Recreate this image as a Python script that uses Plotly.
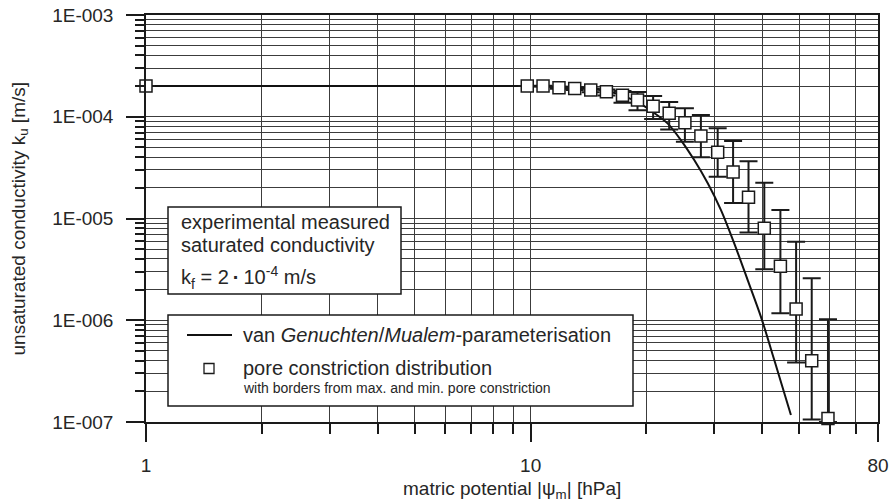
import plotly.graph_objects as go

# ---------------- data ----------------
psi_pts = [1, 9.8, 10.77, 11.85, 13.02, 14.33, 15.74, 17.33, 18.96, 20.82, 22.92,
           25.18, 27.71, 30.64, 33.6, 36.85, 40.5, 44.6, 49.0, 53.8, 59.3]
k_pts = [2.0e-4, 2.0e-4, 2.0e-4, 1.93e-4, 1.90e-4, 1.83e-4, 1.76e-4, 1.63e-4, 1.46e-4,
         1.27e-4, 1.08e-4, 8.73e-5, 6.46e-5, 4.47e-5, 2.86e-5, 1.62e-5, 8.0e-6,
         3.4e-6, 1.29e-6, 4.0e-7, 1.08e-7]
k_max = [2.0e-4, 2.0e-4, 2.02e-4, 1.97e-4, 1.95e-4, 1.90e-4, 1.85e-4, 1.79e-4, 1.75e-4,
         1.60e-4, 1.40e-4, 1.21e-4, 1.04e-4, 7.69e-5, 5.77e-5, 3.66e-5, 2.24e-5,
         1.21e-5, 5.9e-6, 2.58e-6, 1.02e-6]
k_min = [2.0e-4, 2.0e-4, 1.98e-4, 1.88e-4, 1.83e-4, 1.74e-4, 1.62e-4, 1.37e-4, 1.16e-4,
         9.5e-5, 7.5e-5, 5.68e-5, 3.99e-5, 2.57e-5, 1.42e-5, 7.3e-6, 3.18e-6,
         1.17e-6, 3.85e-7, 1.06e-7, 1.0e-7]

vg_psi = [1, 10, 12, 13.5, 15.2, 17.15, 19.34, 20.95, 22.7, 24.58, 26.63, 28.85,
          31.25, 33.83, 36.67, 39.7, 43.0, 47.5]
vg_k = [2e-4, 2e-4, 1.98e-4, 1.92e-4, 1.83e-4, 1.64e-4, 1.33e-4, 1.09e-4, 8.6e-5,
        5.9e-5, 3.75e-5, 2.23e-5, 1.21e-5, 5.7e-6, 2.48e-6, 1.08e-6, 4.06e-7, 1.17e-7]

x_ticks = [1, 10, 80]
x_ticktext = ["1", "10", "80"]
x_minor = [2, 3, 4, 5, 6, 7, 8, 9, 20, 30, 40, 50, 60, 70]
y_ticks = [1e-7, 1e-6, 1e-5, 1e-4, 1e-3]
y_ticktext = ["1E-007", "1E-006", "1E-005", "1E-004", "1E-003"]
y_minor = [m * 10.0 ** e for e in range(-7, -3) for m in range(2, 10)]

# ---------------- styling ----------------
FONT = "Liberation Sans, Arial, sans-serif"
TXT = "#262626"
GRID = "#3c3c3c"
AX = "#1a1a1a"

W, H = 894, 504
L, R, T, B = 146, 878, 15, 422


def px(x):
    return (x - L) / (R - L)


def py(y):
    return (B - y) / (B - T)


err_plus = [None if (a - k) <= 0 else a - k for a, k in zip(k_max, k_pts)]
err_minus = [None if (k - b) <= 0 else k - b for b, k in zip(k_min, k_pts)]

fig = go.Figure()
fig.add_trace(go.Scatter(
    x=vg_psi, y=vg_k, mode="lines",
    line=dict(color="#111111", width=2, shape="spline", smoothing=0.8),
    showlegend=False, hoverinfo="skip"))
fig.add_trace(go.Scatter(
    x=psi_pts, y=k_pts, mode="markers",
    marker=dict(symbol="square", size=12, color="white",
                line=dict(color="#1a1a1a", width=1.5)),
    error_y=dict(type="data", symmetric=False, array=err_plus, arrayminus=err_minus,
                 color="#1a1a1a", thickness=2, width=9),
    cliponaxis=False, showlegend=False))

shapes = []
annotations = []

# box 1: saturated conductivity note
shapes.append(dict(type="rect", xref="paper", yref="paper",
                   x0=px(168), x1=px(401), y0=py(294), y1=py(207),
                   line=dict(color=AX, width=1.5), fillcolor="white", layer="above"))
for txt, yy in [("experimental measured", 221.7),
                ("saturated conductivity", 245),
                ("k<sub>f</sub> = 2\u2009<b>·</b>\u200910<sup>-4</sup> m/s", 277)]:
    annotations.append(dict(text=txt, xref="paper", yref="paper", x=px(179), y=py(yy),
                            xanchor="left", yanchor="middle", showarrow=False,
                            font=dict(family=FONT, size=20, color=TXT)))

# legend box
shapes.append(dict(type="rect", xref="paper", yref="paper",
                   x0=px(168), x1=px(633), y0=py(406), y1=py(315),
                   line=dict(color=AX, width=1.5), fillcolor="white", layer="above"))
shapes.append(dict(type="line", xref="paper", yref="paper",
                   x0=px(187), x1=px(232), y0=py(335), y1=py(335),
                   line=dict(color="#111111", width=2), layer="above"))
shapes.append(dict(type="rect", xref="paper", yref="paper",
                   x0=px(204), x1=px(214), y0=py(373.5), y1=py(363.5),
                   line=dict(color="#1a1a1a", width=1.3), fillcolor="white", layer="above"))
annotations.append(dict(text="van <i>Genuchten</i>/<i>Mualem</i>-parameterisation",
                        xref="paper", yref="paper", x=px(241), y=py(335),
                        xanchor="left", yanchor="middle", showarrow=False,
                        font=dict(family=FONT, size=20, color=TXT)))
annotations.append(dict(text="pore constriction distribution",
                        xref="paper", yref="paper", x=px(241), y=py(368),
                        xanchor="left", yanchor="middle", showarrow=False,
                        font=dict(family=FONT, size=20, color=TXT)))
annotations.append(dict(text="with borders from max. and min. pore constriction",
                        xref="paper", yref="paper", x=px(241), y=py(387.5),
                        xanchor="left", yanchor="middle", showarrow=False,
                        font=dict(family=FONT, size=14, color=TXT)))

# axis titles
annotations.append(dict(text="unsaturated conductivity k<sub>u</sub> [m/s]",
                        xref="paper", yref="paper", x=px(19), y=py(218.5),
                        xanchor="center", yanchor="middle", textangle=-90,
                        showarrow=False, font=dict(family=FONT, size=19, color=TXT)))
annotations.append(dict(text="matric potential |ψ<sub>m</sub>| [hPa]",
                        xref="paper", yref="paper", x=0.5, y=py(490),
                        xanchor="center", yanchor="middle",
                        showarrow=False, font=dict(family=FONT, size=19, color=TXT)))

fig.update_layout(
    template=None,
    width=W, height=H,
    margin=dict(l=L, r=W - R, t=T, b=H - B, autoexpand=False),
    paper_bgcolor="white", plot_bgcolor="white",
    shapes=shapes, annotations=annotations,
    font=dict(family=FONT, color=TXT),
    xaxis=dict(type="log", range=[0, 1.90309], automargin=False,
               tickmode="array", tickvals=x_ticks, ticktext=x_ticktext,
               ticks="outside", ticklen=18, tickwidth=1.5, tickcolor=AX,
               ticklabelstandoff=7,
               tickfont=dict(family=FONT, size=19, color=TXT),
               showgrid=True, gridcolor=GRID, gridwidth=1,
               showline=True, linecolor=AX, linewidth=1.5, mirror=True,
               minor=dict(tickmode="array", tickvals=x_minor, ticks="outside",
                          ticklen=10, tickwidth=1.5, tickcolor=AX,
                          showgrid=True, gridcolor=GRID, gridwidth=1)),
    yaxis=dict(type="log", range=[-7, -3], automargin=False,
               tickmode="array", tickvals=y_ticks, ticktext=y_ticktext,
               ticks="outside", ticklen=18, tickwidth=1.5, tickcolor=AX,
               ticklabelstandoff=9,
               tickfont=dict(family=FONT, size=19, color=TXT),
               showgrid=True, gridcolor=GRID, gridwidth=1,
               showline=True, linecolor=AX, linewidth=1.5, mirror=True,
               minor=dict(tickmode="array", tickvals=y_minor, ticks="outside",
                          ticklen=9, tickwidth=1.5, tickcolor=AX,
                          showgrid=True, gridcolor=GRID, gridwidth=1)),
)

fig.write_html("out.html")
